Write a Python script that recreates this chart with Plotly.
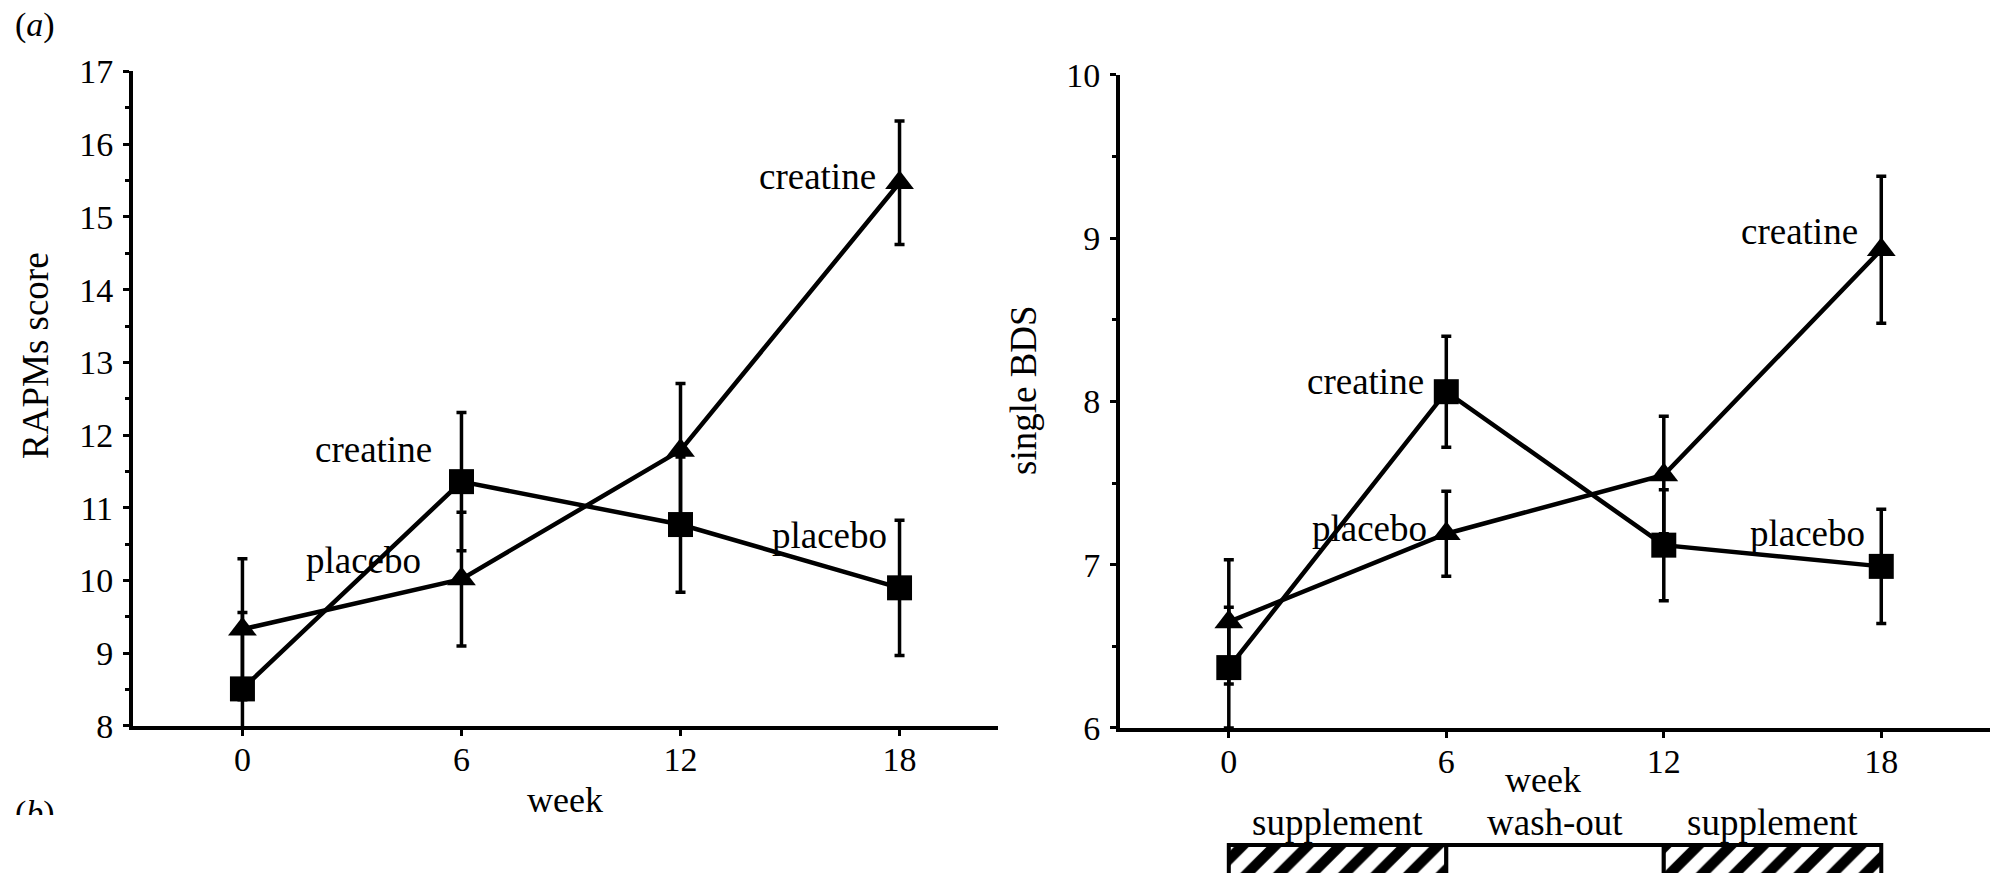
import plotly.graph_objects as go

# ---------------- data ----------------
weeks = [0, 6, 12, 18]

# (a) RAPMs score
rapm_tri = [9.33, 10.02, 11.79, 15.47]
rapm_tri_err = [0.97, 0.92, 0.92, 0.85]
rapm_sq = [8.51, 11.36, 10.77, 9.90]
rapm_sq_err = [1.05, 0.95, 0.93, 0.93]

# single BDS
bds_tri = [6.65, 7.19, 7.55, 8.93]
bds_tri_err = [0.38, 0.26, 0.36, 0.45]
bds_sq = [6.37, 8.06, 7.12, 6.99]
bds_sq_err = [0.37, 0.34, 0.34, 0.35]

left_ticks = [8, 9, 10, 11, 12, 13, 14, 15, 16, 17]
right_ticks = [6, 7, 8, 9, 10]

left_labels = [("creatine", 5.25, 11.80), ("placebo", 4.95, 10.27),
               ("creatine", 17.4, 15.56), ("placebo", 17.7, 10.62)]
right_labels = [("creatine", 5.45, 8.12), ("placebo", 5.52, 7.22),
                ("creatine", 17.4, 9.04), ("placebo", 17.6, 7.19)]

periods = ["supplement", "wash-out", "supplement"]
period_start = [0, 6, 12]
period_len = [6, 6, 6]
period_hatch = ["/", "", "/"]

FONT = "Liberation Serif"
BLACK = "black"

fig = go.Figure()

def add_series(xa, ya, y, err, symbol, size):
    fig.add_trace(go.Scatter(
        x=weeks, y=y, mode="lines+markers", xaxis=xa, yaxis=ya,
        line=dict(color=BLACK, width=4.5),
        marker=dict(symbol=symbol, size=size, color=BLACK),
        error_y=dict(type="data", array=err, color=BLACK, thickness=3.5, width=5),
        showlegend=False, cliponaxis=False))

add_series("x", "y", rapm_tri, rapm_tri_err, "triangle-up", 25)
add_series("x", "y", rapm_sq, rapm_sq_err, "square", 25)
add_series("x2", "y2", bds_tri, bds_tri_err, "triangle-up", 25)
add_series("x2", "y2", bds_sq, bds_sq_err, "square", 25)

# period bar under right panel
fig.add_trace(go.Bar(
    y=[0, 0, 0], x=period_len, base=period_start, orientation="h", width=2,
    xaxis="x3", yaxis="y3",
    marker=dict(color="white", line=dict(color=BLACK, width=4),
                pattern=dict(shape=period_hatch, fgcolor=BLACK, bgcolor="white",
                             fgopacity=1, size=23, solidity=0.45)),
    showlegend=False, hoverinfo="skip"))

axis_common = dict(showline=True, linecolor=BLACK, linewidth=4, ticks="outside",
                   tickcolor=BLACK, tickwidth=3, ticklen=6, showgrid=False,
                   zeroline=False, automargin=False,
                   tickfont=dict(family=FONT, size=34, color=BLACK))
minor = dict(dtick=0.5, ticks="outside", ticklen=4, tickwidth=3, tickcolor=BLACK,
             showgrid=False)

fig.update_layout(
    width=1993, height=873, margin=dict(l=0, r=0, t=0, b=0, pad=0, autoexpand=False),
    paper_bgcolor="white", plot_bgcolor="white",
    font=dict(family=FONT, color=BLACK),
    barmode="overlay", showlegend=False,
    xaxis=dict(domain=[0.0667, 0.5008], range=[-3, 20.7], tickvals=weeks,
               anchor="y", ticklabelstandoff=-6, **axis_common),
    yaxis=dict(domain=[0.1684, 0.9181], range=[8, 17], tickvals=left_ticks,
               anchor="x", minor=minor, ticklabelstandoff=3, **axis_common),
    xaxis2=dict(domain=[0.562, 0.9985], range=[-3, 21], tickvals=weeks,
                anchor="y2", ticklabelstandoff=-6, **axis_common),
    yaxis2=dict(domain=[0.1661, 0.9141], range=[6, 10], tickvals=right_ticks,
                anchor="x2", minor=minor, ticklabelstandoff=3, **axis_common),
    xaxis3=dict(domain=[0.562, 0.9985], range=[-3, 21], anchor="y3", visible=False,
                automargin=False),
    yaxis3=dict(domain=[0, 0.04], range=[-0.5, 1.375], anchor="x3", visible=False,
                automargin=False),
)

ann = []
lab_font = dict(family=FONT, size=37, color=BLACK)
for t, x, y in left_labels:
    ann.append(dict(text=t, x=x, y=y, xref="x", yref="y", xanchor="right",
                    yanchor="middle", showarrow=False, font=lab_font))
for t, x, y in right_labels:
    ann.append(dict(text=t, x=x, y=y, xref="x2", yref="y2", xanchor="right",
                    yanchor="middle", showarrow=False, font=lab_font))
for t, s, l in zip(periods, period_start, period_len):
    ann.append(dict(text=t, x=s + l / 2, y=1 - 822 / 873, xref="x2", yref="paper",
                    xanchor="center", yanchor="middle", showarrow=False, font=lab_font))

def pann(text, px, py, size, **kw):
    return dict(text=text, x=px / 1993, y=1 - py / 873, xref="paper", yref="paper",
                xanchor="center", yanchor="middle", showarrow=False,
                font=dict(family=FONT, size=size, color=BLACK), **kw)

ann += [
    pann("week", 565, 800, 36),
    pann("week", 1543, 780, 36),
    pann("RAPMs score", 35, 356, 37, textangle=-90),
    pann("single BDS", 1024, 390, 37, textangle=-90),
    pann("(<i>a</i>)", 35, 25, 34),
    pann("(<i>b</i>)", 35, 813, 34),
    # page cut-off below "(b)"
    dict(text=" ", x=0, y=0, xref="paper", yref="paper", xanchor="left",
         yanchor="bottom", showarrow=False, bgcolor="white", width=160, height=58,
         borderpad=0, borderwidth=0),
]
fig.update_layout(annotations=ann)

fig.write_html("out.html")
